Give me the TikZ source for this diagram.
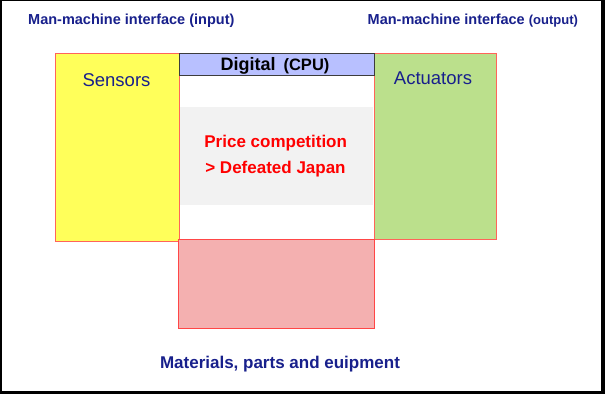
\documentclass[tikz,border=0pt]{standalone}
\usepackage{fontspec}
\setmainfont{Liberation Sans}
\definecolor{navy}{RGB}{24,32,140}
\definecolor{boxred}{RGB}{255,100,90}
\definecolor{pinkred}{RGB}{255,70,70}
\definecolor{yel}{RGB}{255,255,90}
\definecolor{grn}{RGB}{187,224,140}
\definecolor{cpublue}{RGB}{184,192,255}
\definecolor{band}{RGB}{242,242,242}
\definecolor{pinkfill}{RGB}{244,176,176}
\definecolor{txtred}{RGB}{255,0,0}
\begin{document}
\begin{tikzpicture}[x=1pt,y=-1pt,
  blk/.style={anchor=north west, inner sep=0pt, outer sep=0pt},
  navytxt/.style={text=navy, inner sep=0pt},
  redtxt/.style={text=txtred, inner sep=0pt, anchor=base, font=\bfseries\fontsize{17}{20}\selectfont}]
\useasboundingbox (0,0) rectangle (605,394);
\fill[black] (0,0) rectangle (605,394);
\fill[white] (2,1) rectangle (601,391);
% boxes
\node[blk, fill=white, minimum width=195pt, minimum height=164pt] (centre) at (179,75) {};
\node[blk, fill=band, minimum width=193pt, minimum height=98pt] (bandbox) at (180,107) {};
\node[blk, draw=boxred, line width=1pt, fill=yel, minimum width=124pt, minimum height=188pt] (sensors) at (55,53) {};
\node[blk, draw=boxred, line width=1pt, fill=grn, minimum width=122pt, minimum height=186pt] (actuators) at (374,53) {};
\node[blk, draw=pinkred, line width=0.8pt, fill=pinkfill, minimum width=196pt, minimum height=89pt] (materials) at (178,239) {};
\node[blk, draw={rgb,255:red,60;green,60;blue,60}, line width=1pt, fill=cpublue, minimum width=195pt, minimum height=22pt] (cpu) at (179,53) {};
% texts
\node[navytxt, anchor=base west, font=\bfseries\fontsize{14.5}{17}\selectfont] (mmi) at (28,24) {Man-machine interface (input)};
\node[navytxt, anchor=base west, font=\bfseries\fontsize{14.5}{17}\selectfont] (mmo) at (367.5,24) {Man-machine interface {\fontsize{13}{15}\selectfont(output)}};
\node[navytxt, anchor=base, font=\fontsize{18.5}{22}\selectfont] (senstxt) at (116.5,86.5) {Sensors};
\node[navytxt, anchor=base, font=\fontsize{18.5}{22}\selectfont] (acttxt) at (433,84.5) {Actuators};
\node[inner sep=0pt, anchor=base, font=\bfseries\fontsize{18}{20}\selectfont] (cputxt) at (275,70) {Digital\, {\fontsize{16.5}{19}\selectfont(CPU)}};
\node[redtxt] (price) at (275.7,147.3) {Price competition};
\node[redtxt] (japan) at (275.5,173.3) {> Defeated Japan};
\node[navytxt, anchor=base, font=\bfseries\fontsize{17}{20}\selectfont] (mattxt) at (280,368.7) {Materials, parts and euipment};
\end{tikzpicture}
\end{document}
